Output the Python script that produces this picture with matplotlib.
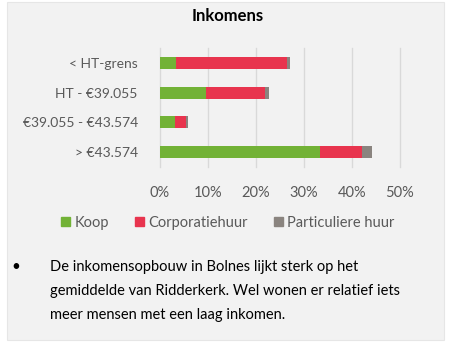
import matplotlib.pyplot as plt
from matplotlib.patches import Rectangle, Patch

# ------ DATA ------
categories = ["< HT-grens", "HT - €39.055", "€39.055 - €43.574", "> €43.574"]
koop = [3.3, 9.5, 3.1, 33.3]
corporatiehuur = [23.2, 12.4, 2.3, 8.8]
particuliere_huur = [0.5, 0.9, 0.4, 2.0]
series_names = ["Koop", "Corporatiehuur", "Particuliere huur"]
colors = ["#72b236", "#e8344e", "#8a847f"]
xticks = [0, 10, 20, 30, 40, 50]

plt.rcParams['font.family'] = ['Lato', 'DejaVu Sans']

W, H = 451, 345
fig = plt.figure(figsize=(W / 100, H / 100), dpi=100)
fig.patch.set_facecolor("white")
# light grey panel behind everything
fig.patches.append(Rectangle((7 / W, 5 / H), 437 / W, 338 / H, transform=fig.transFigure,
                             facecolor="#f2f2f2", edgecolor="#e6e6e6", lw=0.8, zorder=-5))

ax = fig.add_axes([160 / W, 1 - 167 / H, 240 / W, 119 / H])
ax.set_facecolor("none")

y = list(range(len(categories)))
left = [0] * len(categories)
for vals, name, col in zip([koop, corporatiehuur, particuliere_huur], series_names, colors):
    ax.barh(y, vals, left=left, height=0.4, color=col, label=name, zorder=3)
    left = [a + b for a, b in zip(left, vals)]

ax.set_ylim(3.5, -0.5)
ax.set_xlim(0, 50)
ax.set_yticks(y)
ax.set_yticklabels(categories, fontsize=10, color="#595959")
ax.set_xticks(xticks)
ax.set_xticklabels([f"{t}%" for t in xticks], fontsize=10.5, color="#595959")
ax.tick_params(axis="both", length=0)
ax.tick_params(axis="y", pad=16)
ax.tick_params(axis="x", pad=14)
ax.grid(axis="x", color="#d9d9d9", lw=1, zorder=0)
for s in ax.spines.values():
    s.set_visible(False)
for gl in ax.get_xgridlines():
    gl.set_clip_on(False)

fig.text(228 / W, 1 - 16 / H, "Inkomens", ha="center", va="center",
         fontsize=12, fontweight="bold", color="black")

handles = [Patch(color=c) for c in colors]
fig.legend(handles, series_names, loc="center", bbox_to_anchor=(228 / W, 1 - 223 / H),
           ncol=3, frameon=False, fontsize=10.5, labelcolor="#595959",
           handlelength=0.6, handleheight=0.6, handletextpad=0.3, columnspacing=1.8)

fig.text(16 / W, 1 - 267 / H, "•", ha="center", va="center", fontsize=11, color="black")
lines = ["De inkomensopbouw in Bolnes lijkt sterk op het",
         "gemiddelde van Ridderkerk. Wel wonen er relatief iets",
         "meer mensen met een laag inkomen."]
for i, line in enumerate(lines):
    fig.text(50 / W, 1 - (267 + 24 * i) / H, line, ha="left", va="center",
             fontsize=10.5, color="black")

fig.savefig("out.png", dpi=100, facecolor=fig.get_facecolor())
